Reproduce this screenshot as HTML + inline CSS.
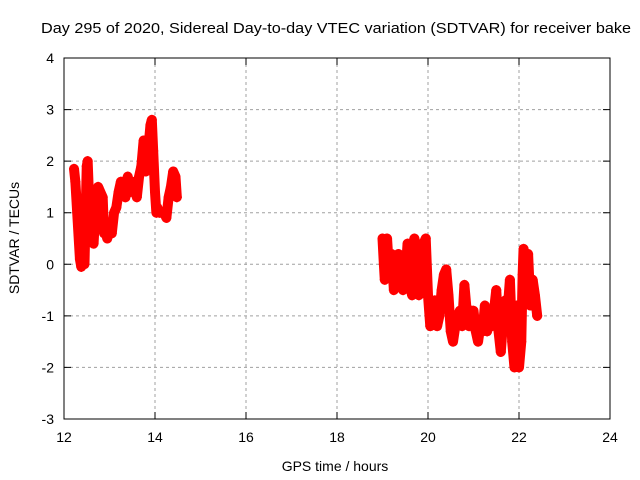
<!DOCTYPE html>
<html><head><meta charset="utf-8">
<style>
body{margin:0;background:#fff;}
svg{display:block;font-family:"Liberation Sans",Arial,sans-serif;}
</style></head>
<body>
<svg id="chart" width="640" height="480" viewBox="0 0 640 480">
<text x="41" y="33" font-size="15" textLength="590" lengthAdjust="spacingAndGlyphs">Day 295 of 2020, Sidereal Day-to-day VTEC variation (SDTVAR) for receiver bake</text>
<text x="335" y="471" font-size="14" text-anchor="middle">GPS time / hours</text>
<text x="0" y="0" font-size="14" text-anchor="middle" transform="translate(19,238) rotate(-90)">SDTVAR / TECUs</text>
<g id="grid"></g><g id="axes"></g><g id="marks"></g>
<rect x="64" y="58" width="546" height="361" fill="none" stroke="#000" stroke-width="1"/>
</svg>
<script>
const xTicks=[12,14,16,18,20,22,24];
const yTicks=[-3,-2,-1,0,1,2,3,4];
const t1=[12.22,12.25,12.35,12.38,12.4,12.45,12.5,12.52,12.55,12.58,12.6,12.62,12.65,12.68,12.7,12.75,12.8,12.85,12.88,12.9,12.95,13.0,13.05,13.1,13.15,13.2,13.25,13.3,13.35,13.4,13.45,13.5,13.55,13.6,13.65,13.7,13.75,13.8,13.85,13.9,13.93,13.96,14.0,14.03,14.05,14.1,14.15,14.2,14.25,14.3,14.35,14.4,14.45,14.48];
const v1=[1.85,1.6,0.1,-0.05,0.4,0.0,1.9,2.0,1.3,0.8,1.3,1.0,0.4,0.9,1.4,1.5,1.4,1.3,0.6,0.8,0.5,0.8,0.6,1.0,1.1,1.4,1.6,1.5,1.3,1.7,1.4,1.5,1.6,1.3,1.7,1.9,2.4,1.8,2.2,2.7,2.8,2.2,1.4,1.0,1.1,1.0,1.0,1.0,0.9,1.3,1.5,1.8,1.7,1.3];
const t2=[19.0,19.03,19.05,19.08,19.1,19.15,19.2,19.25,19.3,19.35,19.4,19.45,19.5,19.55,19.6,19.65,19.7,19.75,19.8,19.85,19.9,19.95,20.0,20.05,20.1,20.15,20.2,20.25,20.3,20.35,20.4,20.45,20.5,20.55,20.6,20.65,20.7,20.75,20.8,20.85,20.9,20.95,21.0,21.05,21.1,21.15,21.2,21.25,21.3,21.35,21.4,21.45,21.5,21.55,21.6,21.65,21.7,21.75,21.8,21.85,21.9,21.93,21.95,21.98,22.0,22.05,22.08,22.1,22.15,22.2,22.25,22.3,22.35,22.4];
const v2=[0.5,0.0,-0.3,0.3,0.5,-0.2,0.2,-0.5,0.0,0.2,-0.3,-0.5,-0.3,0.4,-0.4,-0.6,0.5,0.3,-0.6,-0.3,0.4,0.5,-0.6,-1.2,-1.0,-0.7,-1.2,-1.0,-0.5,-0.2,-0.1,-0.6,-1.3,-1.5,-1.2,-1.0,-0.9,-1.2,-0.4,-0.9,-1.2,-0.9,-0.9,-1.3,-1.5,-1.2,-1.3,-0.8,-1.3,-1.0,-1.2,-0.9,-0.5,-1.3,-1.7,-1.1,-0.7,-0.9,-0.3,-1.5,-2.0,-1.3,-0.8,-1.8,-2.0,-1.5,-0.2,0.3,-0.5,0.2,-0.8,-0.3,-0.6,-1.0];
const NS="http://www.w3.org/2000/svg";
const X0=64,X1=610,Y0=419,Y1=58;
function sx(v){return X0+(v-12)/(24-12)*(X1-X0);}
function sy(v){return Y0-(v+3)/7*(Y0-Y1);}
const grid=document.getElementById('grid'),axes=document.getElementById('axes'),marks=document.getElementById('marks');
function mk(tag,attrs,parent){const e=document.createElementNS(NS,tag);for(const k in attrs)e.setAttribute(k,attrs[k]);parent.appendChild(e);return e;}
xTicks.forEach(v=>{
  const x=sx(v);
  if(v>12&&v<24){const g=mk('line',{x1:x,x2:x,y1:Y1,y2:Y0,stroke:'#a0a0a0','stroke-dasharray':'3,3'},grid);
  
  }
  const tk=mk('path',{d:`M${x},${Y0}v-7M${x},${Y1}v7`,stroke:'#000'},axes);
  
  
  const t=mk('text',{x:x,y:Y0+23,'font-size':14,'text-anchor':'middle'},axes);t.textContent=v;
  
  
});
yTicks.forEach(v=>{
  const y=sy(v);
  if(v>-3&&v<4){const g=mk('line',{x1:X0,x2:X1,y1:y,y2:y,stroke:'#a0a0a0','stroke-dasharray':'3,3'},grid);
  
  }
  const tk=mk('path',{d:`M${X0},${y}h7M${X1},${y}h-7`,stroke:'#000'},axes);
  
  
  const t=mk('text',{x:X0-10,y:y+5,'font-size':14,'text-anchor':'end'},axes);t.textContent=v;
  
  
});
function series(ts,vs,name){
  const pts=ts.map((t,i)=>sx(t)+','+sy(vs[i])).join(' ');
  const pl=mk('polyline',{points:pts,fill:'none',stroke:'#f00','stroke-width':10,'stroke-linejoin':'round','stroke-linecap':'round'},marks);
  
  
  ts.forEach((t,i)=>{
    const x=sx(t),y=sy(vs[i]);
    const p=mk('path',{d:`M${x-5},${y}h10M${x},${y-5}v10`,stroke:'#f00','stroke-width':1.5},marks);
    
    
  });
}
series(t1,v1,'morning-pass');
series(t2,v2,'evening-pass');
</script>
</body></html>
